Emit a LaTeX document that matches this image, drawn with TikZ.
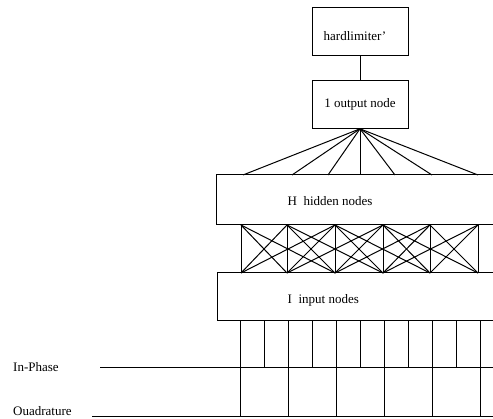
\documentclass[tikz,border=0pt]{standalone}
\usepackage{fontspec}
\setmainfont{Liberation Serif}
\begin{document}
\begin{tikzpicture}[x=1pt,y=-1pt,
  ln/.style={line width=1pt,black},
  box/.style={draw,line width=1pt,rectangle,inner sep=0pt,font=\fontsize{13}{15}\selectfont},
  lbl/.style={inner sep=0pt,font=\fontsize{13}{15}\selectfont}]
\useasboundingbox (0,0) rectangle (493,419);
\fill[white] (0,0) rectangle (493,419);
% boxes
\node[box,minimum width=96pt,minimum height=48pt,
  label={[lbl,anchor=west,xshift=12pt,yshift=-4pt]west:hardlimiter\textquoteright}] (hl) at (360,32) {};
\node[box,minimum width=96pt,minimum height=47.6pt] (out) at (360,104.5) {1 output node};
\node[box,minimum width=300pt,minimum height=50pt,
  label={[lbl,anchor=west,xshift=72pt,yshift=-1pt]west:H\ \ hidden nodes}] (hid) at (366,200) {};
\node[box,minimum width=300pt,minimum height=48pt,
  label={[lbl,anchor=west,xshift=71pt,yshift=-3pt]west:I\ \ input nodes}] (inp) at (367,297) {};
\draw[ln] (hl.south) -- (out.south |- out.north);
% fan-out
\foreach \x [count=\i] in {243,292,328,360,395,432,478}{
  \coordinate (f\i) at (\x,175);
  \draw[ln] (out.south) -- (f\i);
}
% mesh
\foreach \x [count=\i] in {241,287,335,383,430,478}{
  \coordinate (t\i) at (\x,225);
  \coordinate (b\i) at (\x,273);
}
\foreach \i in {1,...,6}{
  \foreach \j in {1,...,6}{
    \pgfmathtruncatemacro{\d}{abs(\i-\j)}
    \ifnum\d<3 \draw[ln] (t\i) -- (b\j);\fi
  }
}
% input lines
\node[lbl,anchor=west] (ip) at (13,367) {In-Phase};
\node[lbl,anchor=west] (qd) at (13,411.5) {Ouadrature};
\coordinate (ipS) at (100,368);
\coordinate (ipE) at (495,368);
\coordinate (qdS) at (92,416.5);
\coordinate (qdE) at (495,416.5);
\draw[ln] (ipS) -- (ipE);
\draw[ln] (qdS) -- (qdE);
\foreach \k in {0,...,10}{
  \pgfmathsetmacro{\xx}{240+24*\k}
  \coordinate (v\k) at (\xx,321);
  \ifodd\k
    \draw[ln] (v\k) -- (v\k |- ipS);
  \else
    \draw[ln] (v\k) -- (v\k |- qdS);
  \fi
}
\end{tikzpicture}
\end{document}
